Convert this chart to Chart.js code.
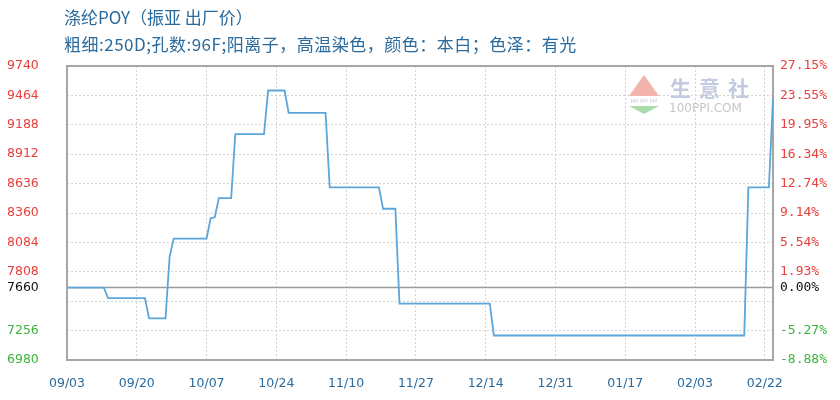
<!DOCTYPE html>
<html>
<head>
<meta charset="utf-8">
<script src="https://cdn.jsdelivr.net/npm/chart.js@4/dist/chart.umd.min.js"></script>
<style>
  html, body { margin: 0; padding: 0; background: #fff; }
  #wrap { width: 840px; height: 400px; }
</style>
</head>
<body>
<div id="wrap"><canvas id="poy-chart" width="840" height="400"></canvas></div>
<script>
// data (x = days since 09/03)
const days = [0, 9, 10, 19, 20, 24, 25, 26, 34, 35, 36, 37, 40, 41, 48, 49, 53, 54, 63, 64, 76, 77, 80, 81, 103, 104, 165, 166, 171, 172];
const prices = [7660, 7660, 7560, 7560, 7370, 7370, 7950, 8120, 8120, 8310, 8320, 8500, 8500, 9100, 9100, 9510, 9510, 9300, 9300, 8600, 8600, 8400, 8400, 7510, 7510, 7210, 7210, 8600, 8600, 9440];
const basePrice = 7660;
const priceTicks = [9740, 9464, 9188, 8912, 8636, 8360, 8084, 7808, 7660, 7532, 7256, 6980];
const dateTicks = [0, 17, 34, 51, 68, 85, 102, 119, 136, 153, 170];
const dateLabels = ["09/03", "09/20", "10/07", "10/24", "11/10", "11/27", "12/14", "12/31", "01/17", "02/03", "02/22"];
const title = "涤纶POY（振亚 出厂价）";
const subtitle = "粗细:250D;孔数:96F;阳离子，高温染色，颜色：本白；色泽：有光";

const RED = "#e8403c";
const GREEN = "#3cb43c";
const BLUE_TEXT = "#2a6a9c";

function tickColor(v) {
    if (v === basePrice) return "#111";
    return v > basePrice ? RED : GREEN;
}

// titles, plot frame, base line and watermark
const decor = {
    id: "decor",
    beforeDatasetsDraw(chart) {
        const { ctx, chartArea: a, scales } = chart;
        ctx.save();
        // watermark
        ctx.fillStyle = "#f3b4ad";
        ctx.beginPath();
        ctx.moveTo(644, 75); ctx.lineTo(659, 96); ctx.lineTo(629, 96); ctx.closePath(); ctx.fill();
        ctx.fillStyle = "#aadcaa";
        ctx.beginPath();
        ctx.moveTo(629, 106); ctx.lineTo(659, 106); ctx.lineTo(644, 114); ctx.closePath(); ctx.fill();
        ctx.fillStyle = "#b9c3dc";
        ctx.font = "5px 'DejaVu Sans'";
        ctx.textAlign = "center";
        ctx.textBaseline = "middle";
        ctx.fillText("ppi ppi ppi", 644, 101);
        ctx.font = "bold 21px 'Noto Sans CJK SC'";
        ctx.fillStyle = "#c4cbe0";
        ctx.textAlign = "left";
        ["生", "意", "社"].forEach((c, i) => ctx.fillText(c, 670 + i * 29, 88));
        ctx.font = "12px 'DejaVu Sans'";
        ctx.fillStyle = "#c6c6c6";
        ctx.fillText("100PPI.COM", 669, 109);
        // base price line
        const yb = scales.y.getPixelForValue(basePrice);
        ctx.strokeStyle = "#9a9a9a";
        ctx.lineWidth = 1.5;
        ctx.beginPath();
        ctx.moveTo(a.left, yb); ctx.lineTo(a.right, yb); ctx.stroke();
        // frame
        ctx.strokeStyle = "#a6a6a6";
        ctx.lineWidth = 2;
        ctx.strokeRect(a.left, a.top, a.right - a.left, a.bottom - a.top);
        ctx.restore();
    },
    afterDraw(chart) {
        const { ctx } = chart;
        ctx.save();
        ctx.fillStyle = BLUE_TEXT;
        ctx.textAlign = "left";
        ctx.textBaseline = "middle";
        ctx.font = "17px 'Noto Sans CJK SC'";
        ctx.fillText(title, 64, 18);
        ctx.letterSpacing = "0.5px";
        ctx.fillText(subtitle, 64, 45);
        ctx.restore();
    }
};

const ctx = document.querySelector("#poy-chart").getContext("2d");
const poyChart = new Chart(ctx, {
    type: "line",
    data: {
        datasets: [
            {
                label: "出厂价",
                data: days.map((d, i) => ({ x: d, y: prices[i] })),
                borderColor: "#5ca6da",
                borderWidth: 1.8,
                pointRadius: 0,
                tension: 0,
                fill: false,
                clip: 3,
            },
        ],
    },
    options: {
        responsive: false,
        animation: false,
        layout: { padding: { top: 66, left: 7, right: 0, bottom: 0 } },
        plugins: {
            legend: { display: false },
            tooltip: { enabled: false },
        },
        scales: {
            x: {
                type: "linear",
                min: 0,
                max: 172,
                afterBuildTicks: (s) => { s.ticks = dateTicks.map((v) => ({ value: v })); },
                afterFit: (s) => { s.height = 40; },
                ticks: {
                    callback: (v) => dateLabels[dateTicks.indexOf(v)],
                    color: BLUE_TEXT,
                    font: { family: "DejaVu Sans", size: 12.5 },
                    padding: 16,
                    maxRotation: 0,
                    autoSkip: false,
                },
                grid: { color: "#d2d2d2", drawTicks: false },
                border: { display: false, dash: [2, 2] },
            },
            y: {
                position: "left",
                min: 6980,
                max: 9740,
                afterBuildTicks: (s) => { s.ticks = priceTicks.map((v) => ({ value: v })); },
                afterFit: (s) => { s.width = 60; },
                ticks: {
                    callback: (v) => (v === 7532 ? "" : String(v)),
                    color: (c) => tickColor(c.tick.value),
                    font: { family: "DejaVu Sans", size: 12.5 },
                    crossAlign: "far",
                    autoSkip: false,
                },
                grid: {
                    color: (c) => (c.tick && c.tick.value === basePrice ? "rgba(0,0,0,0)" : "#d2d2d2"),
                    drawTicks: false,
                },
                border: { display: false, dash: [2, 2] },
            },
            y2: {
                position: "right",
                min: 6980,
                max: 9740,
                afterBuildTicks: (s) => { s.ticks = priceTicks.map((v) => ({ value: v })); },
                afterFit: (s) => { s.width = 67; },
                ticks: {
                    callback: (v) => (v === 7532 ? "" : (((v - basePrice) / basePrice) * 100).toFixed(2) + "%"),
                    color: (c) => tickColor(c.tick.value),
                    font: { family: "DejaVu Sans Mono", size: 13 },
                    crossAlign: "near",
                    padding: 7,
                    autoSkip: false,
                },
                grid: { drawOnChartArea: false, drawTicks: false },
                border: { display: false },
            },
        },
    },
    plugins: [decor],
});
</script>
</body>
</html>
